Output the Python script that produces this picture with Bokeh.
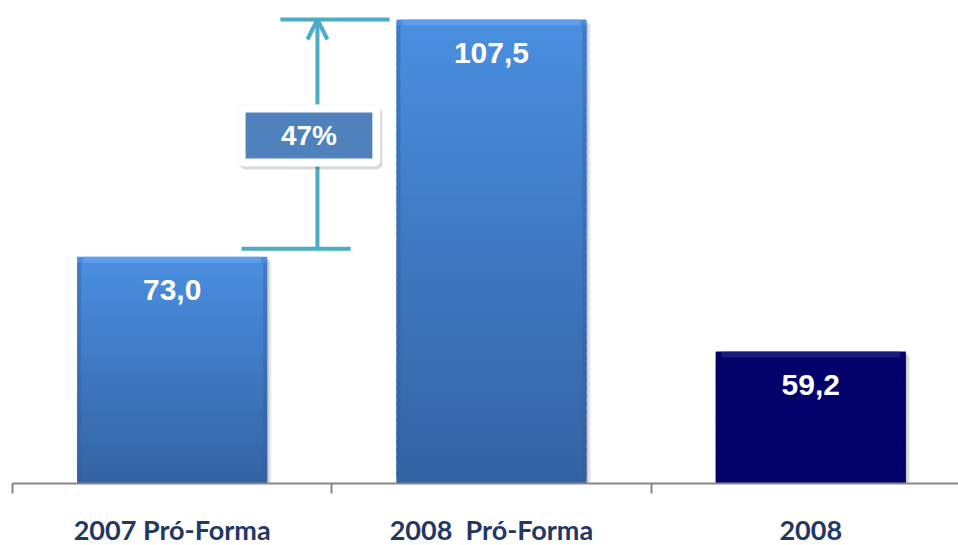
import numpy as np
from bokeh.plotting import figure
from bokeh.models import Range1d, FixedTicker, Arrow, OpenHead, BoxAnnotation, Label
from bokeh.core.properties import value
from bokeh.embed import file_html
from bokeh.resources import INLINE

# Data
categories = ["2007 Pró-Forma", "2008\u00a0 Pró-Forma", "2008"]
values = [73.0, 107.5, 59.2]
value_labels = ["73,0", "107,5", "59,2"]
axis_base = 40.0

# Layout constants (pixels per unit in each direction)
PX_X = 319.3
PX_Y = 6.874
FRAME_W, FRAME_H = 946, 483
centers = [0.5, 1.5, 2.5]
bar_w = 190 / PX_X

p = figure(frame_width=FRAME_W, frame_height=FRAME_H, output_backend="svg", toolbar_location=None,
           x_range=Range1d(0, FRAME_W / PX_X), y_range=Range1d(axis_base, axis_base + FRAME_H / PX_Y),
           y_axis_location=None, min_border_left=12, min_border_right=0,
           min_border_top=0, min_border_bottom=62)
p.outline_line_color = None
p.xgrid.visible = False
p.ygrid.visible = False
p.background_fill_color = "white"
p.border_fill_color = "white"


def hex2rgb(h):
    h = h.lstrip("#")
    return np.array([int(h[i:i + 2], 16) for i in (0, 2, 4)], dtype=float)


def rgb2hex(c):
    return "#%02x%02x%02x" % tuple(int(round(v)) for v in c)


top_blue, bot_blue = hex2rgb("#4a8ee0"), hex2rgb("#3463a4")
navy = "#03036b"

# soft drop shadows
for k, a in enumerate([0.10, 0.08, 0.06]):
    off = (k + 1) * 1.5
    p.quad(left=[c - bar_w / 2 + off / PX_X for c in centers],
           right=[c + bar_w / 2 + off / PX_X for c in centers],
           bottom=[axis_base] * 3,
           top=[v - off / PX_Y for v in values],
           fill_color="black", fill_alpha=a, line_color=None)

# gradient bars built from thin overlapping slices
N = 60
L, R, B, T, C = [], [], [], [], []
for c, v, i in zip(centers, values, range(3)):
    h = (v - axis_base) / N
    for k in range(N):
        b = axis_base + h * k
        t = min(v, b + h * 1.6)
        L.append(c - bar_w / 2)
        R.append(c + bar_w / 2)
        B.append(b)
        T.append(t)
        if i < 2:
            f = k / (N - 1)
            C.append(rgb2hex(bot_blue + (top_blue - bot_blue) * f))
        else:
            C.append(navy)
p.quad(left=L, right=R, bottom=B, top=T, fill_color=C, line_color=None)

# bevel: light top strip and darker side edges
bevel = 6
p.quad(left=[c - bar_w / 2 + bevel / PX_X for c in centers],
       right=[c + bar_w / 2 - bevel / PX_X for c in centers],
       bottom=[v - bevel / PX_Y for v in values], top=values,
       fill_color=["#6da8f0", "#6da8f0", "#2b2b8c"], fill_alpha=0.6, line_color=None)
p.quad(left=[c - bar_w / 2 for c in centers],
       right=[c - bar_w / 2 + 4 / PX_X for c in centers],
       bottom=[axis_base] * 3, top=[v - bevel / PX_Y for v in values],
       fill_color=["#2f5e9e", "#2f5e9e", "#020258"], fill_alpha=0.4, line_color=None)
p.quad(left=[c + bar_w / 2 - 4 / PX_X for c in centers],
       right=[c + bar_w / 2 for c in centers],
       bottom=[axis_base] * 3, top=[v - bevel / PX_Y for v in values],
       fill_color=["#2f5e9e", "#2f5e9e", "#020258"], fill_alpha=0.4, line_color=None)

# value labels inside bars
p.text(x=centers, y=values, text=value_labels, y_offset=33,
       text_align="center", text_baseline="middle", text_color="white",
       text_font=value("Liberation Sans"), text_font_style="bold", text_font_size="30px")

# growth bracket between the two pro-forma bars
teal = "#4bacc6"
growth = round((values[1] / values[0] - 1) * 100)
low_y = values[0] + 8 / PX_Y
arrow_x = 0.955
p.segment(x0=[0.839, 0.717], x1=[1.181, 1.059], y0=[values[1], low_y], y1=[values[1], low_y],
          line_color=teal, line_width=4)
p.add_layout(Arrow(end=OpenHead(size=20, line_color=teal, line_width=4),
                   x_start=arrow_x, y_start=low_y, x_end=arrow_x, y_end=values[1],
                   line_color=teal, line_width=4))

p.add_layout(BoxAnnotation(left=0.705 + 2 / PX_X, right=1.152 + 2 / PX_X,
                           bottom=86.12 - 3 / PX_Y, top=95.13 - 3 / PX_Y,
                           fill_color="black", fill_alpha=0.15, line_color=None, border_radius=6))
p.add_layout(BoxAnnotation(left=0.705, right=1.152, bottom=86.12, top=95.13,
                           fill_color="white", fill_alpha=1, line_color="#e6e6e6",
                           border_radius=6))
p.add_layout(BoxAnnotation(left=0.730, right=1.127, bottom=87.28, top=93.97,
                           fill_color="#4f81bd", fill_alpha=1, line_color=None))
p.add_layout(Label(x=0.9285, y=90.6, text=f"{growth}%", text_align="center",
                   text_baseline="middle", text_color="white", text_font="Liberation Sans",
                   text_font_style="bold", text_font_size="28px"))

# category axis: labels at bar centres, ticks at category boundaries
ax = p.xaxis[0]
ax.ticker = FixedTicker(ticks=centers, minor_ticks=[0, 1, 2, 3])
ax.major_label_overrides = {c: cat for c, cat in zip(centers, categories)}
ax.major_tick_in = 0
ax.major_tick_out = 0
ax.minor_tick_in = 0
ax.minor_tick_out = 10
ax.minor_tick_line_color = "#878787"
ax.minor_tick_line_width = 2
ax.axis_line_color = "#878787"
ax.axis_line_width = 2
ax.major_label_standoff = 19
ax.major_label_text_font = "Lato"
ax.major_label_text_font_style = "bold"
ax.major_label_text_font_size = "27px"
ax.major_label_text_color = "#1f3864"

open("out.html", "w").write(file_html(p, INLINE))
